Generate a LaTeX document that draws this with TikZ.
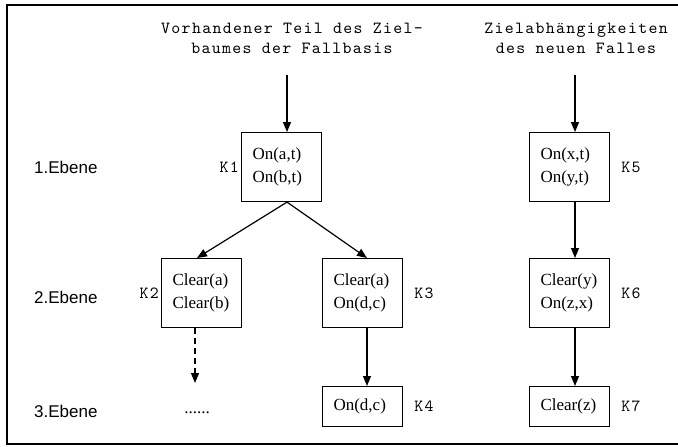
\documentclass[tikz,border=0pt]{standalone}
\usepackage{fontspec}
\setmainfont{Liberation Serif}
% thin slab-serif typewriter, widened to Courier's advance width
\newfontfamily\monofont{lmmono10-regular}[Extension=.otf,LetterSpace=7.9]
\newfontfamily\helvfont{Liberation Sans}
\usetikzlibrary{arrows.meta,calc}

\begin{document}
\begin{tikzpicture}[x=1pt,y=-1pt,
  goalbox/.style={draw,line width=1.1pt,minimum height=69pt,text width=58pt,
    inner xsep=11pt,inner ysep=0pt,align=left,anchor=north west,
    font=\fontsize{17}{23}\selectfont},
  smallbox/.style={goalbox,minimum height=40pt},
  klabel/.style={font=\monofont\fontsize{17}{20}\selectfont,inner sep=0pt},
  level/.style={font=\helvfont\fontsize{17}{20}\selectfont,inner sep=0pt,anchor=west},
  heading/.style={font=\monofont\fontsize{17}{20}\selectfont,align=center,inner sep=0pt},
  arr/.style={line width=1.2pt,-{Triangle[length=10pt,width=8pt]}},
  frame/.style={line width=2pt}]
\useasboundingbox (0,0) rectangle (678,447);

% outer frame (open at the right)
\draw[frame] (680,5) -- (7,5) -- (7,444) -- (680,444);

% headings
\node[heading] (h1) at (292,38) {Vorhandener Teil des Ziel-\\baumes der Fallbasis};
\node[heading] (h2) at (576,38) {Zielabh\"angigkeiten\\des neuen Falles};

% level names
\node[level] (e1) at (34,167) {1.Ebene};
\node[level] (e2) at (34,297) {2.Ebene};
\node[level] (e3) at (34,411) {3.Ebene};

% goal boxes
\node[goalbox] (k1) at (241,132) {On(a,t)\\On(b,t)};
\node[goalbox] (k2) at (161,258) {Clear(a)\\Clear(b)};
\node[goalbox] (k3) at (322,258) {Clear(a)\\On(d,c)};
\node[smallbox] (k4) at (322,386) {On(d,c)};
\node[goalbox] (k5) at (529,132) {On(x,t)\\On(y,t)};
\node[goalbox] (k6) at (529,258) {Clear(y)\\On(z,x)};
\node[smallbox] (k7) at (529,386) {Clear(z)};

% box labels
\node[klabel,anchor=east] (l1) at ($(k1.west)+(-2,0)$) {K1};
\node[klabel,anchor=east] (l2) at ($(k2.west)+(-2,0)$) {K2};
\node[klabel,anchor=west] (l3) at ($(k3.east)+(11,0)$) {K3};
\node[klabel,anchor=west] (l4) at ($(k4.east)+(11,0)$) {K4};
\node[klabel,anchor=west] (l5) at ($(k5.east)+(11,0)$) {K5};
\node[klabel,anchor=west] (l6) at ($(k6.east)+(11,0)$) {K6};
\node[klabel,anchor=west] (l7) at ($(k7.east)+(11,0)$) {K7};

% continuation below K2
\node[inner sep=0pt,anchor=base,font=\fontsize{17}{20}\selectfont] (dots) at (197,413) {......};

% connectors
\coordinate (in1) at (287,75);
\coordinate (in5) at (575,75);
\coordinate (k1b) at (287,0 |- k1.south);
\coordinate (k2t) at (197,0 |- k2.north);
\coordinate (k3t) at (367,0 |- k3.north);
\coordinate (dashend) at (195,383);

\draw[arr] (in1) -- (in1 |- k1.north);
\draw[arr] (k1b) -- (k2t);
\draw[arr] (k1b) -- (k3t);
\draw[arr] (k3t |- k3.south) -- (k3t |- k4.north);
\draw[arr,dash pattern=on 6pt off 4pt] (dashend |- k2.south) -- (dashend);

\draw[arr] (in5) -- (in5 |- k5.north);
\draw[arr] (in5 |- k5.south) -- (in5 |- k6.north);
\draw[arr] (in5 |- k6.south) -- (in5 |- k7.north);
\end{tikzpicture}
\end{document}
